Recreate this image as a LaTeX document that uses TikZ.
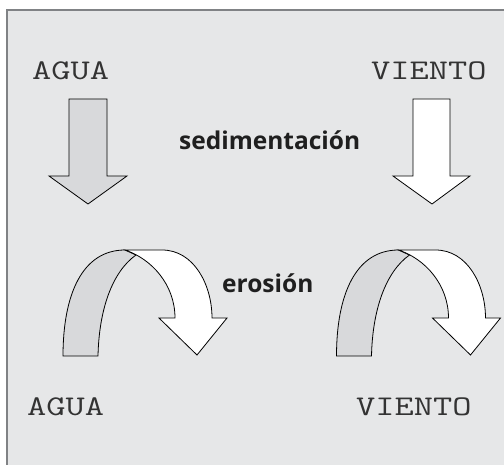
\documentclass[tikz,border=0pt]{standalone}
\usepackage{fontspec}
\newfontfamily\labelfont{Open Sans}
\definecolor{bgcol}{RGB}{230,231,232}
\definecolor{framecol}{RGB}{128,130,133}
\definecolor{arrowgray}{RGB}{216,217,219}
\newcommand{\monotext}[1]{\scalebox{1.31}[1]{\ttfamily\fontsize{28.5}{28.5}\selectfont #1}}
\tikzset{
  mono/.style={inner sep=0pt, anchor=base west, text=black!80},
  lbl/.style={font=\labelfont\bfseries\fontsize{24.5}{24.5}\selectfont, inner sep=0pt, anchor=base west, text=black!88},
  grayarrow/.style={fill=arrowgray, draw=black, line width=0.8pt, line join=miter},
  whitearrow/.style={fill=white, draw=black, line width=0.8pt, line join=miter},
}
\begin{document}
\begin{tikzpicture}[x=1pt,y=-1pt]
\useasboundingbox (0,0) rectangle (504,465);
\fill[white] (0,0) rectangle (504,465);
\fill[bgcol] (7,9.7) rectangle (504,465);
\draw[framecol, line width=2pt] (6.7,465) -- (6.7,9.7) -- (504,9.7);

% labels
\node[mono] (agua1) at (32,80) {\monotext{AGUA}};
\node[mono] (viento1) at (371,80) {\monotext{VIENTO}};
\node[mono] (agua2) at (27,416) {\monotext{AGUA}};
\node[mono] (viento2) at (356,416) {\monotext{VIENTO}};
\node[lbl] (sed) at (179,150) {sedimentación};
\node[lbl] (ero) at (222,293) {erosión};

% straight arrows
\filldraw[grayarrow] (69,99) -- (107,99) -- (107,176) -- (127,176) -- (88,204) -- (49,176) -- (69,176) -- cycle;
\filldraw[whitearrow] (413,99) -- (450,99) -- (450,176) -- (470,176) -- (432,204) -- (393,176) -- (413,176) -- cycle;

% curved arrows
\foreach \dx in {0,273.5}{
\begin{scope}[xshift=\dx pt]
\filldraw[grayarrow] (63,356) .. controls (63,295) and (82,250) .. (125,250) -- (136,255) .. controls (112,272) and (99,310) .. (98,356) -- cycle;
\filldraw[whitearrow] (125,250) -- (162,250) .. controls (194,250) and (212,285) .. (212,318) -- (227,318) -- (197,355) -- (159,318) -- (175,318) .. controls (175,285) and (152,259) .. (125,250) -- cycle;
\end{scope}
}
\end{tikzpicture}
\end{document}
